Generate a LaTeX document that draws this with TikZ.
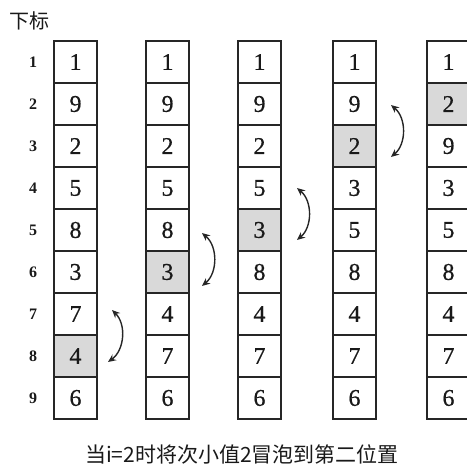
\documentclass[tikz,border=0pt]{standalone}
\usepackage{fontspec}
\setmainfont{Liberation Serif}
\newfontfamily\cjk{Noto Sans CJK SC}
\newfontfamily\digfont[FakeBold=0.6]{Liberation Serif}
\usetikzlibrary{arrows.meta}
\begin{document}
\begin{tikzpicture}[x=1pt,y=-1pt,
  cell/.style={draw=black!85, line width=1.4pt, minimum width=43pt, minimum height=42pt,
    inner sep=0pt, text=black!90, font=\digfont\fontsize{24}{24}\selectfont},
  idx/.style={text=black!90, font=\bfseries\fontsize{16}{16}\selectfont},
  swaparrow/.style={{Stealth[length=8pt,width=7pt]}-{Stealth[length=8pt,width=7pt]},
    line width=1.4pt, draw=black!85, bend left=50}]
\useasboundingbox (0,0) rectangle (467,465);
\clip (0,0) rectangle (467,465);
\node[text=black!90, font=\cjk\fontsize{20}{20}\selectfont] (hdr) at (29.5,21) {下标};
\foreach \r in {1,...,9}
  \node[idx] (i\r) at (33,{62+42*(\r-1)}) {\r};
\foreach \c/\x/\h/\vals in {1/75.5/8/{1,9,2,5,8,3,7,4,6},
                            2/167.5/6/{1,9,2,5,8,3,4,7,6},
                            3/259.5/5/{1,9,2,5,3,8,4,7,6},
                            4/354.5/3/{1,9,2,3,5,8,4,7,6},
                            5/448.5/2/{1,2,9,3,5,8,4,7,6}}{
  \foreach \v [count=\r] in \vals {
    \ifnum\r=\h \def\fc{black!15}\else\def\fc{white}\fi
    \node[cell, fill=\fc] (c\c-\r) at (\x,{62+42*(\r-1)}) {\v};
  }
}
\coordinate (a1t) at (112,310); \coordinate (a1b) at (108,362);
\coordinate (a2t) at (202,233); \coordinate (a2b) at (202,286);
\coordinate (a3t) at (297,188); \coordinate (a3b) at (297,240);
\coordinate (a4t) at (391,105); \coordinate (a4b) at (391,157);
\draw[swaparrow] (a1t) to (a1b);
\draw[swaparrow] (a2t) to (a2b);
\draw[swaparrow] (a3t) to (a3b);
\draw[swaparrow] (a4t) to (a4b);
\node[text=black!90, font=\cjk\fontsize{21}{21}\selectfont] (cap) at (242,454) {当i=2时将次小值2冒泡到第二位置};
\end{tikzpicture}
\end{document}
